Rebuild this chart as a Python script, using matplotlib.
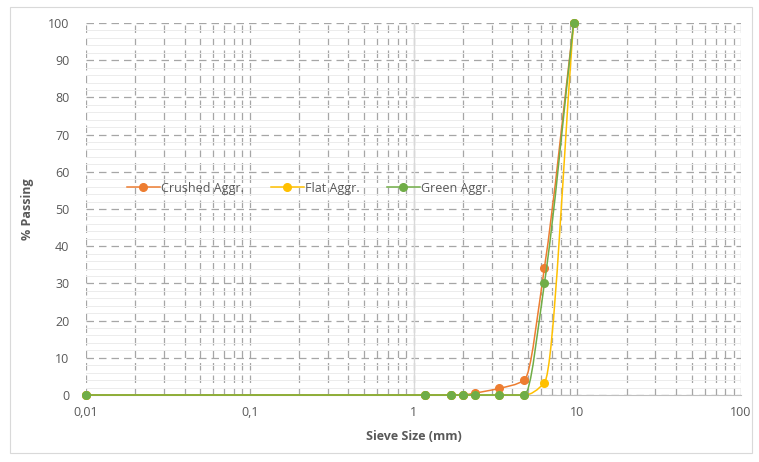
import numpy as np
import matplotlib
matplotlib.use("Agg")
import matplotlib.pyplot as plt
from matplotlib.path import Path
from matplotlib.patches import PathPatch, Rectangle
from matplotlib.lines import Line2D

# Sieve sizes (mm) and % passing
sieve_mm = [0.01, 1.18, 1.7, 2.0, 2.36, 3.35, 4.75, 6.3, 9.5]
crushed = [0, 0, 0, 0, 0.5, 1.8, 4.0, 34.2, 100]
flat = [0, 0, 0, 0, 0, 0, 0, 3.3, 100]
green = [0, 0, 0, 0, 0, 0, 0, 30.0, 100]

series = [("Crushed Aggr.", crushed, "#ED7D31"),
          ("Flat Aggr.", flat, "#FFC000"),
          ("Green Aggr.", green, "#70AD47")]

x_ticks = [0.01, 0.1, 1, 10, 100]
x_ticklabels = ["0,01", "0,1", "1", "10", "100"]
y_ticks = list(range(0, 101, 10))

plt.rcParams['font.family'] = ['Open Sans', 'DejaVu Sans']
txt = "#595959"

fig = plt.figure(figsize=(7.59, 4.62), dpi=100)
fig.patches.append(Rectangle((0.013, 0.02), 0.978, 0.965, transform=fig.transFigure,
                             fill=False, edgecolor="#d9d9d9", linewidth=0.8))
ax = fig.add_axes([0.1133, 0.145, 0.8630, 0.8052])
ax.set_xscale("log")
ax.set_xlim(0.01, 100)
ax.set_ylim(0, 100)


def smooth_path(xs, ys):
    # smoothed line drawn as cubic Bezier segments in log-x space,
    # monotone tangents so the curve doesn't dip below the points
    u = np.log10(xs)
    y = np.asarray(ys, dtype=float)
    n = len(u)
    h = np.diff(u)
    d = np.diff(y) / h
    m = np.zeros(n)
    m[0], m[-1] = d[0], d[-1]
    for i in range(1, n - 1):
        if d[i - 1] * d[i] > 0:
            w1 = 2 * h[i] + h[i - 1]
            w2 = h[i] + 2 * h[i - 1]
            m[i] = (w1 + w2) / (w1 / d[i - 1] + w2 / d[i])
    verts = [(xs[0], y[0])]
    codes = [Path.MOVETO]
    for i in range(n - 1):
        c1 = (10 ** (u[i] + h[i] / 3), y[i] + m[i] * h[i] / 3)
        c2 = (10 ** (u[i + 1] - h[i] / 3), y[i + 1] - m[i + 1] * h[i] / 3)
        verts += [c1, c2, (xs[i + 1], y[i + 1])]
        codes += [Path.CURVE4] * 3
    return Path(verts, codes)


handles = []
for k, (name, vals, col) in enumerate(series):
    p = smooth_path(sieve_mm, vals)
    ax.add_patch(PathPatch(p, facecolor="none", edgecolor=col, linewidth=1.1,
                           transform=ax.transData, zorder=3 + k, clip_on=False))
    ax.plot(sieve_mm, vals, linestyle="none", marker="o", markersize=5.5,
            color=col, zorder=3 + k, clip_on=False)
    handles.append(Line2D([], [], color=col, linewidth=1.1, marker="o", markersize=5.5))

# grid
ax.set_yticks(y_ticks)
ax.set_yticks(np.arange(0, 101, 2), minor=True)
ax.grid(True, which="major", axis="both", color="#a6a6a6", linestyle=(0, (6, 4)), linewidth=0.9)
ax.grid(True, which="minor", axis="x", color="#a6a6a6", linestyle=(0, (6, 4)), linewidth=0.9)
ax.grid(True, which="minor", axis="y", color="#ececec", linestyle="-", linewidth=0.7)
ax.set_axisbelow(True)
ax.axvline(1, color="#d9d9d9", linewidth=1.0, zorder=1)

for s in ["top", "right", "left"]:
    ax.spines[s].set_visible(False)
ax.spines["bottom"].set_color("#bfbfbf")
ax.spines["bottom"].set_zorder(2)

ax.set_xticks(x_ticks)
ax.set_xticklabels(x_ticklabels)
ax.tick_params(which="both", length=0, colors=txt, labelsize=9)
ax.tick_params(axis="x", pad=8)
ax.tick_params(axis="y", pad=12)

ax.set_xlabel("Sieve Size (mm)", fontsize=9, fontweight="bold", color=txt, labelpad=8)
ax.set_ylabel("% Passing", fontsize=9, fontweight="bold", color=txt, labelpad=10)

leg = ax.legend(handles, [s[0] for s in series], ncol=3, frameon=False,
                loc="center", bbox_to_anchor=(0.34, 0.556), fontsize=9,
                handlelength=2.6, handletextpad=0.1, columnspacing=2.2)
for t in leg.get_texts():
    t.set_color(txt)

fig.savefig("out.png", dpi=100)
